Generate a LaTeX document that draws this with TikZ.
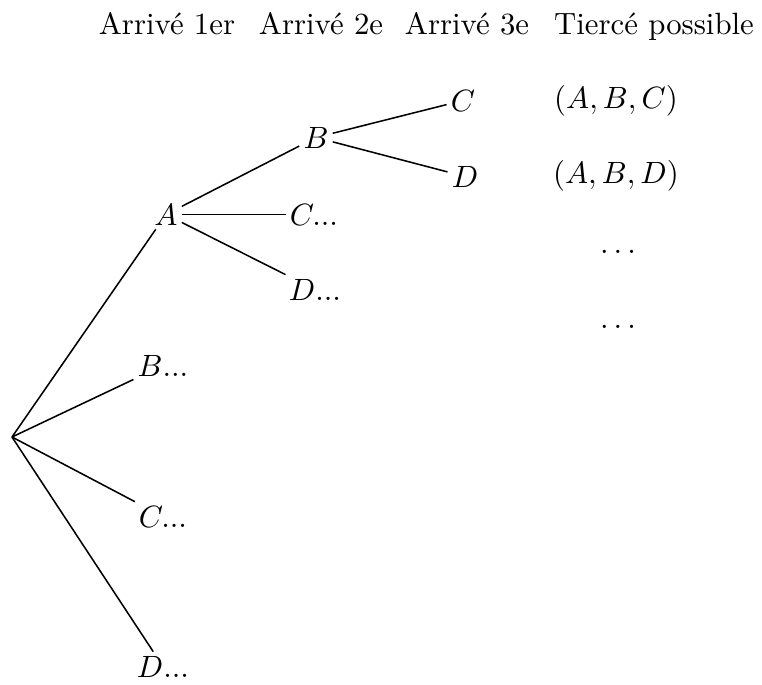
\documentclass[tikz,border=0pt]{standalone}
\usepackage{fontspec}
\begin{document}
\begin{tikzpicture}[x=0.3247pt,y=-0.3247pt,
  lbl/.style={inner sep=1.2pt,anchor=base},
  head/.style={inner sep=0pt,anchor=base},
  edge/.style={line width=0.5pt}]
\useasboundingbox (0,0) rectangle (762,684);
% headings
\node[head] (h1) at (167,34) {Arrivé 1er};
\node[head] (h2) at (321,34) {Arrivé 2e};
\node[head] (h3) at (467,34) {Arrivé 3e};
\node[head] (h4) at (654,34) {Tiercé possible};
% tree
\coordinate (r) at (12,437);
\node[lbl] (A) at (166,225) {$A$};
\node[lbl] (Bx) at (163,376) {$B...$};
\node[lbl] (Cx) at (163,527) {$C...$};
\node[lbl] (Dx) at (163,677) {$D...$};
\node[lbl] (B) at (316,148) {$B$};
\node[lbl] (ACx) at (314,225) {$C...$};
\node[lbl] (ADx) at (315,300) {$D...$};
\node[lbl] (C) at (463,111) {$C$};
\node[lbl] (D) at (465,187) {$D$};
% results
\node[head] (t1) at (616,108) {$(A,B,C)$};
\node[head] (t2) at (616,183) {$(A,B,D)$};
\node[head] (t3) at (618,253) {$\dots$};
\node[head] (t4) at (618,328) {$\dots$};
% edges
\draw[edge] (r) -- (A);
\draw[edge] (r) -- (Bx);
\draw[edge] (r) -- (Cx);
\draw[edge] (r) -- (Dx);
\draw[edge] (A) -- (B);
\draw[edge] (A) -- (ACx);
\draw[edge] (A) -- (ADx);
\draw[edge] (B) -- (C);
\draw[edge] (B) -- (D);
\end{tikzpicture}
\end{document}
